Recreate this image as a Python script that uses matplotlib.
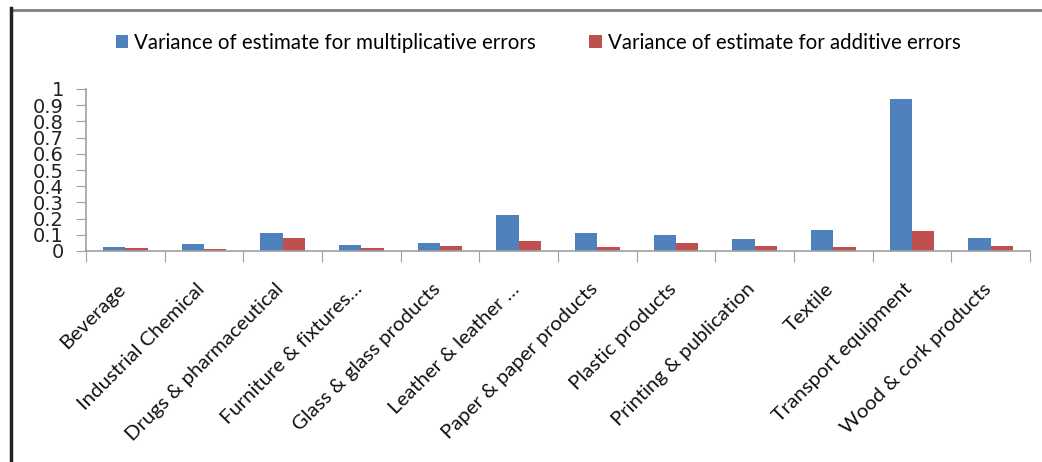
import numpy as np
import matplotlib
matplotlib.use("Agg")
import matplotlib.pyplot as plt
from matplotlib.lines import Line2D

categories = ["Beverage", "Industrial Chemical", "Drugs & pharmaceutical",
              "Furniture & fixtures\u2026", "Glass & glass products",
              "Leather & leather \u2026", "Paper & paper products",
              "Plastic products", "Printing & publication", "Textile",
              "Transport equipment", "Wood & cork products"]
mult_var = [0.023, 0.043, 0.109, 0.037, 0.049, 0.22, 0.109, 0.097, 0.074, 0.128, 0.94, 0.082]
add_var = [0.016, 0.010, 0.082, 0.016, 0.031, 0.062, 0.023, 0.049, 0.031, 0.023, 0.123, 0.031]
yticks = [0, 0.1, 0.2, 0.3, 0.4, 0.5, 0.6, 0.7, 0.8, 0.9, 1]
ytick_labels = ["0", "0.1", "0.2", "0.3", "0.4", "0.5", "0.6", "0.7", "0.8", "0.9", "1"]

blue = "#4F81BD"
red = "#C0504D"
grey = "#A0A0A0"

fig = plt.figure(figsize=(10.42, 4.62), dpi=100)
ax = fig.add_axes([86 / 1042, 1 - 251 / 462, (1030 - 86) / 1042, (251 - 89) / 462])

x = np.arange(len(categories))
w = 0.285
ax.bar(x - w / 2, mult_var, w, color=blue, label="Variance of estimate for multiplicative errors")
ax.bar(x + w / 2, add_var, w, color=red, label="Variance of estimate for additive errors")

ax.set_xlim(-0.5, len(categories) - 0.5)
ax.set_ylim(0, 1)
ax.set_yticks(yticks)
ax.set_yticklabels(ytick_labels, fontsize=14, family="DejaVu Sans", color="#222222")
ax.tick_params(axis="y", direction="out", length=7, color=grey, pad=9)

# category ticks sit between groups, labels at group centres
ax.set_xticks(np.arange(len(categories) + 1) - 0.5)
ax.set_xticklabels([])
ax.tick_params(axis="x", direction="out", length=8, color=grey)
for i, name in enumerate(categories):
    ax.annotate(name, xy=(i, 0), xycoords=("data", "axes fraction"),
                xytext=(-6, -21), textcoords="offset points",
                rotation=45, ha="right", va="top", rotation_mode="anchor",
                fontsize=14.7, family="Lato", color="#111111")

for s in ["top", "right"]:
    ax.spines[s].set_visible(False)
ax.spines["left"].set_color(grey)
ax.spines["bottom"].set_color(grey)
ax.spines["left"].set_linewidth(1.2)
ax.spines["bottom"].set_linewidth(1.2)

leg = fig.legend(loc="center", bbox_to_anchor=(538 / 1042, 1 - 43 / 462), ncol=2,
                 frameon=False, handlelength=0.6, handleheight=0.6, handletextpad=0.3,
                 columnspacing=2.6, prop={"family": "Lato", "size": 14.8})

# screenshot frame: grey top line and dark left line
fig.add_artist(Line2D([12 / 1042, 1], [1 - 9.5 / 462, 1 - 9.5 / 462],
                      transform=fig.transFigure, color="#808080", lw=2))
fig.add_artist(Line2D([11 / 1042, 11 / 1042], [0, 1 - 8 / 462],
                      transform=fig.transFigure, color="#222222", lw=2.5))

fig.savefig("out.png", dpi=100)
